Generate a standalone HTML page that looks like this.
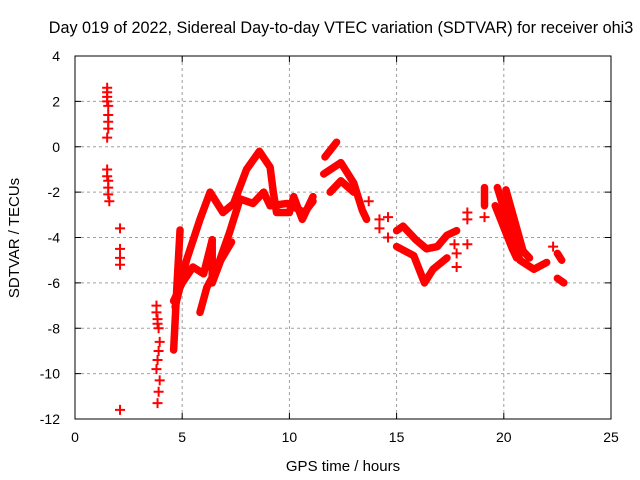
<!DOCTYPE html>
<html><head><meta charset="utf-8"><style>
body{margin:0;background:#fff}
svg{display:block;font-family:"Liberation Sans",sans-serif}
</style></head><body>
<svg id="c" width="640" height="480">
<text x="341" y="33" font-size="16.2" text-anchor="middle">Day 019 of 2022, Sidereal Day-to-day VTEC variation (SDTVAR) for receiver ohi3</text>
<text x="343" y="471" font-size="15" text-anchor="middle">GPS time / hours</text>
<text transform="translate(19,238) rotate(-90)" font-size="15" text-anchor="middle">SDTVAR / TECUs</text>
<g id="grid"></g>
<g id="axes"></g>
<g id="marks"></g>
<rect x="75" y="56" width="536" height="363" fill="none" stroke="#000" stroke-width="1"/>
</svg>
<script>
const xTicks=[0,5,10,15,20,25];
const yTicks=[4,2,0,-2,-4,-6,-8,-10,-12];
const trackHours=[
[4.6,4.75,4.9],
[4.67,5.2,5.83,6.3,6.9,7.4,8.0,8.6,9.1,9.25,9.4,10.0,10.2,10.6,11.1],
[4.6,5.0,5.5,6.0,6.4],
[5.83,6.15,6.6,7.2,7.7,8.3,8.8,9.1,9.9,10.3,10.7,11.1],
[6.4,6.4,6.8,7.3],
[11.66,12.2],
[11.6,12.4,13.0,13.4,13.6],
[11.9,12.4,13.0],
[15.0,15.3,15.9,16.4,16.9,17.35,17.8],
[15.0,15.8,16.3,16.7,17.35],
[19.1,19.1],
[19.7,20.75,21.4,22.0],
[19.6,20.4,20.6],
[20.1,20.9,21.2],
[22.5,22.7],
[22.5,22.8]
];
const trackValues=[
[-8.96,-6.2,-3.67],
[-7.06,-5.0,-3.2,-2.0,-2.9,-2.5,-1.0,-0.2,-0.9,-2.0,-2.9,-2.9,-2.2,-3.2,-2.2],
[-6.8,-6.0,-5.3,-5.6,-4.1],
[-7.3,-6.2,-5.4,-3.8,-2.3,-2.5,-2.0,-2.6,-2.5,-2.7,-2.9,-2.4],
[-4.1,-6.0,-5.0,-4.2],
[-0.45,0.2],
[-1.2,-0.7,-1.6,-2.8,-3.2],
[-2.0,-1.5,-2.0],
[-3.7,-3.5,-4.1,-4.5,-4.4,-3.9,-3.7],
[-4.4,-4.8,-6.0,-5.4,-4.9],
[-1.8,-2.6],
[-1.8,-5.0,-5.4,-5.1],
[-2.6,-4.5,-4.9],
[-1.9,-4.6,-4.9],
[-4.7,-5.0],
[-5.8,-6.0]
];
const pointHours=[1.5,1.5,1.5,1.5,1.55,1.55,1.55,1.55,1.5,1.5,1.5,1.55,1.55,1.55,1.6,2.1,2.1,2.1,2.1,2.1,3.8,3.8,3.85,3.9,3.85,3.8,3.85,3.9,3.95,3.85,3.9,3.95,13.7,14.2,14.2,14.6,14.6,17.7,17.8,17.8,18.3,18.3,18.3,19.1,22.3];
const pointValues=[2.6,2.4,2.2,2.0,1.8,1.4,1.1,0.8,0.4,-1.0,-1.3,-1.5,-1.8,-2.1,-2.4,-3.6,-4.5,-4.9,-5.2,-11.6,-7.0,-7.3,-7.6,-8.0,-7.8,-9.8,-9.4,-9.0,-8.6,-11.3,-10.8,-10.3,-2.4,-3.2,-3.6,-3.1,-4.0,-4.3,-4.7,-5.3,-4.3,-2.9,-3.2,-3.1,-4.4];
const NS='http://www.w3.org/2000/svg';
const X=h=>75+h*536/25, Y=v=>56+(4-v)*363/16;
const grid=document.getElementById('grid'),axes=document.getElementById('axes'),marks=document.getElementById('marks');
function mk(t,a,p){const e=document.createElementNS(NS,t);for(const k in a)e.setAttribute(k,a[k]);p.appendChild(e);return e;}
xTicks.forEach(t=>{const x=X(t);
 if(t>0&&t<25){const g=mk('line',{x1:x,x2:x,y1:56,y2:419,stroke:'#a0a0a0','stroke-dasharray':'3,3'},grid);
 
 }
 const tk=mk('path',{d:`M${x},419v-6M${x},56v6`,stroke:'#000'},axes);
 
 
 const l=mk('text',{x:x,y:442,'font-size':14,'text-anchor':'middle'},axes);l.textContent=t;
 
 });
yTicks.forEach(t=>{const y=Y(t);
 if(t>-12&&t<4){const g=mk('line',{x1:75,x2:611,y1:y,y2:y,stroke:'#a0a0a0','stroke-dasharray':'3,3'},grid);
 
 }
 const tk=mk('path',{d:`M75,${y}h6M611,${y}h-6`,stroke:'#000'},axes);
 
 
 const l=mk('text',{x:60,y:y+5,'font-size':14,'text-anchor':'end'},axes);l.textContent=t;
 
 });
trackHours.forEach((hs,i)=>{const pts=hs.map((h,j)=>X(h)+','+Y(trackValues[i][j])).join(' ');
 const p=mk('polyline',{points:pts,fill:'none',stroke:'#ff0000','stroke-width':7.5,'stroke-linejoin':'round','stroke-linecap':'round'},marks);
 
 });
pointHours.forEach((h,i)=>{const x=X(h),y=Y(pointValues[i]);
 const p=mk('path',{d:`M${x-5},${y}h10M${x},${y-5}v10`,stroke:'#ff0000','stroke-width':2},marks);
 
 });
</script>
</body></html>
